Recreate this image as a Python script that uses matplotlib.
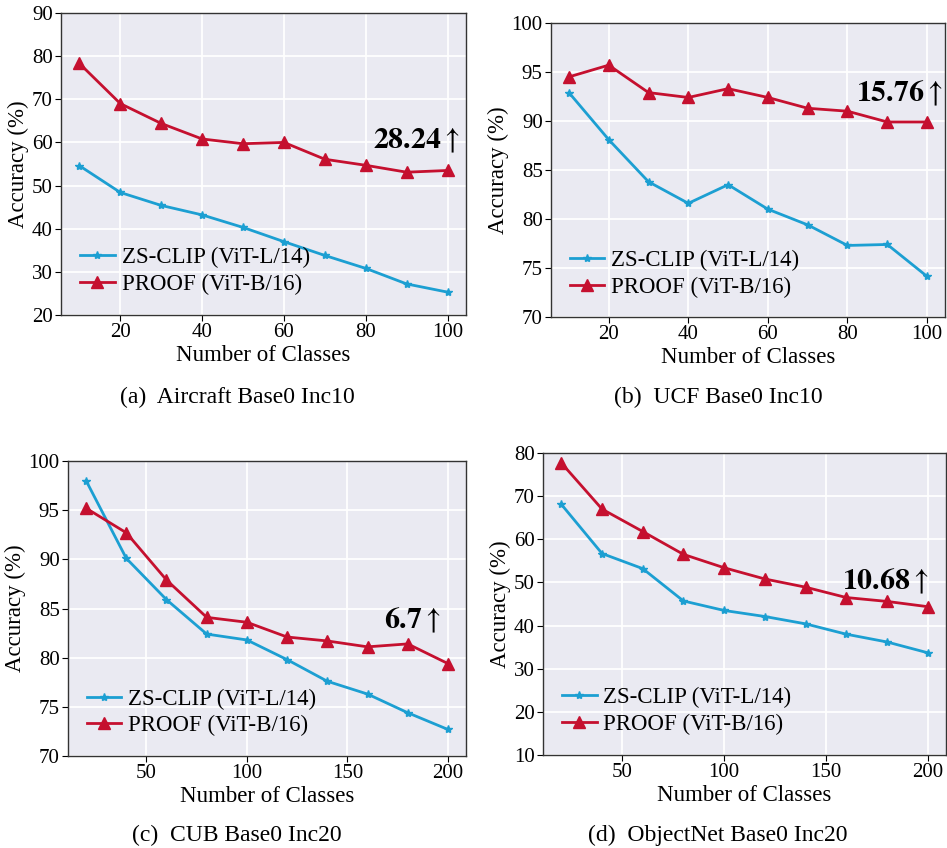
import matplotlib
matplotlib.use("Agg")
import matplotlib.pyplot as plt

plt.rcParams['font.family'] = ['Liberation Serif', 'DejaVu Serif']
plt.rcParams['mathtext.fontset'] = 'stix'

labels = ['ZS-CLIP (ViT-L/14)', 'PROOF (ViT-B/16)']
blue = '#1c9fd2'
red = '#c5102f'

# classes
x_inc10 = [10, 20, 30, 40, 50, 60, 70, 80, 90, 100]
x_inc20 = [20, 40, 60, 80, 100, 120, 140, 160, 180, 200]

# accuracy values
aircraft_clip = [54.6, 48.4, 45.4, 43.2, 40.3, 37.0, 33.8, 30.8, 27.2, 25.3]
aircraft_proof = [78.3, 69.0, 64.4, 60.8, 59.7, 60.0, 56.1, 54.7, 53.1, 53.5]
ucf_clip = [92.9, 88.1, 83.8, 81.6, 83.5, 81.0, 79.4, 77.3, 77.4, 74.14]
ucf_proof = [94.5, 95.7, 92.9, 92.4, 93.3, 92.4, 91.3, 91.0, 89.9, 89.9]
cub_clip = [98.0, 90.1, 85.9, 82.4, 81.8, 79.8, 77.6, 76.3, 74.4, 72.7]
cub_proof = [95.2, 92.7, 87.9, 84.1, 83.6, 82.1, 81.7, 81.1, 81.4, 79.4]
objnet_clip = [68.1, 56.7, 53.2, 45.7, 43.5, 42.1, 40.4, 38.0, 36.2, 33.7]
objnet_proof = [77.7, 67.0, 61.8, 56.5, 53.4, 50.8, 48.9, 46.5, 45.6, 44.38]

gains = ['28.24', '15.76', '6.7', '10.68']
captions = ['(a)  Aircraft Base0 Inc10', '(b)  UCF Base0 Inc10',
            '(c)  CUB Base0 Inc20', '(d)  ObjectNet Base0 Inc20']

W, H = 947, 848
fig = plt.figure(figsize=(W / 100, H / 100), dpi=100)


def make_ax(l, r, t, b):
    return fig.add_axes([l / W, 1 - b / H, (r - l) / W, (b - t) / H])


panels = [
    (make_ax(61, 466, 13, 315), x_inc10, aircraft_clip, aircraft_proof, (20, 90), 10, (103.0, 58.7), (237, 397)),
    (make_ax(551, 945, 23, 317), x_inc10, ucf_clip, ucf_proof, (70, 100), 5, (104.1, 92.0), (718, 397)),
    (make_ax(68, 466, 461, 756), x_inc20, cub_clip, cub_proof, (70, 100), 5, (196.7, 83.0), (237, 835)),
    (make_ax(543, 946, 453, 755), x_inc20, objnet_clip, objnet_proof, (10, 80), 10, (200.8, 48.3), (718, 835)),
]

for i, (ax, x, clip, proof, ylim, ystep, txt, cap) in enumerate(panels):
    ax.set_facecolor('#EAEAF2')
    ax.grid(True, color='white', linewidth=1.3)
    ax.set_axisbelow(True)
    ax.plot(x, clip, color=blue, marker='*', markersize=6, linewidth=2, label=labels[0])
    ax.plot(x, proof, color=red, marker='^', markersize=9, linewidth=2, label=labels[1])
    ax.set_ylim(*ylim)
    ax.set_yticks(range(ylim[0], ylim[1] + 1, ystep))
    for s in ax.spines.values():
        s.set_color('#333333')
        s.set_linewidth(1.0)
    ax.tick_params(labelsize=15, length=4, width=0.8, pad=2)
    ax.set_xlabel('Number of Classes', fontsize=16.5, labelpad=2)
    ax.set_ylabel('Accuracy (%)', fontsize=16.5, labelpad=2)
    ax.legend(loc='lower left', bbox_to_anchor=(0.025, 0.035), frameon=False, fontsize=16.5,
              handlelength=1.5, handletextpad=0.3, labelspacing=0.25, borderaxespad=0)
    ax.text(txt[0], txt[1], r'$\mathbf{' + gains[i] + r'}\uparrow$', fontsize=21.5,
            ha='right', va='baseline')
    fig.text(cap[0] / W, 1 - cap[1] / H, captions[i], fontsize=17, ha='center', va='center')

plt.savefig('out.png', dpi=100)
